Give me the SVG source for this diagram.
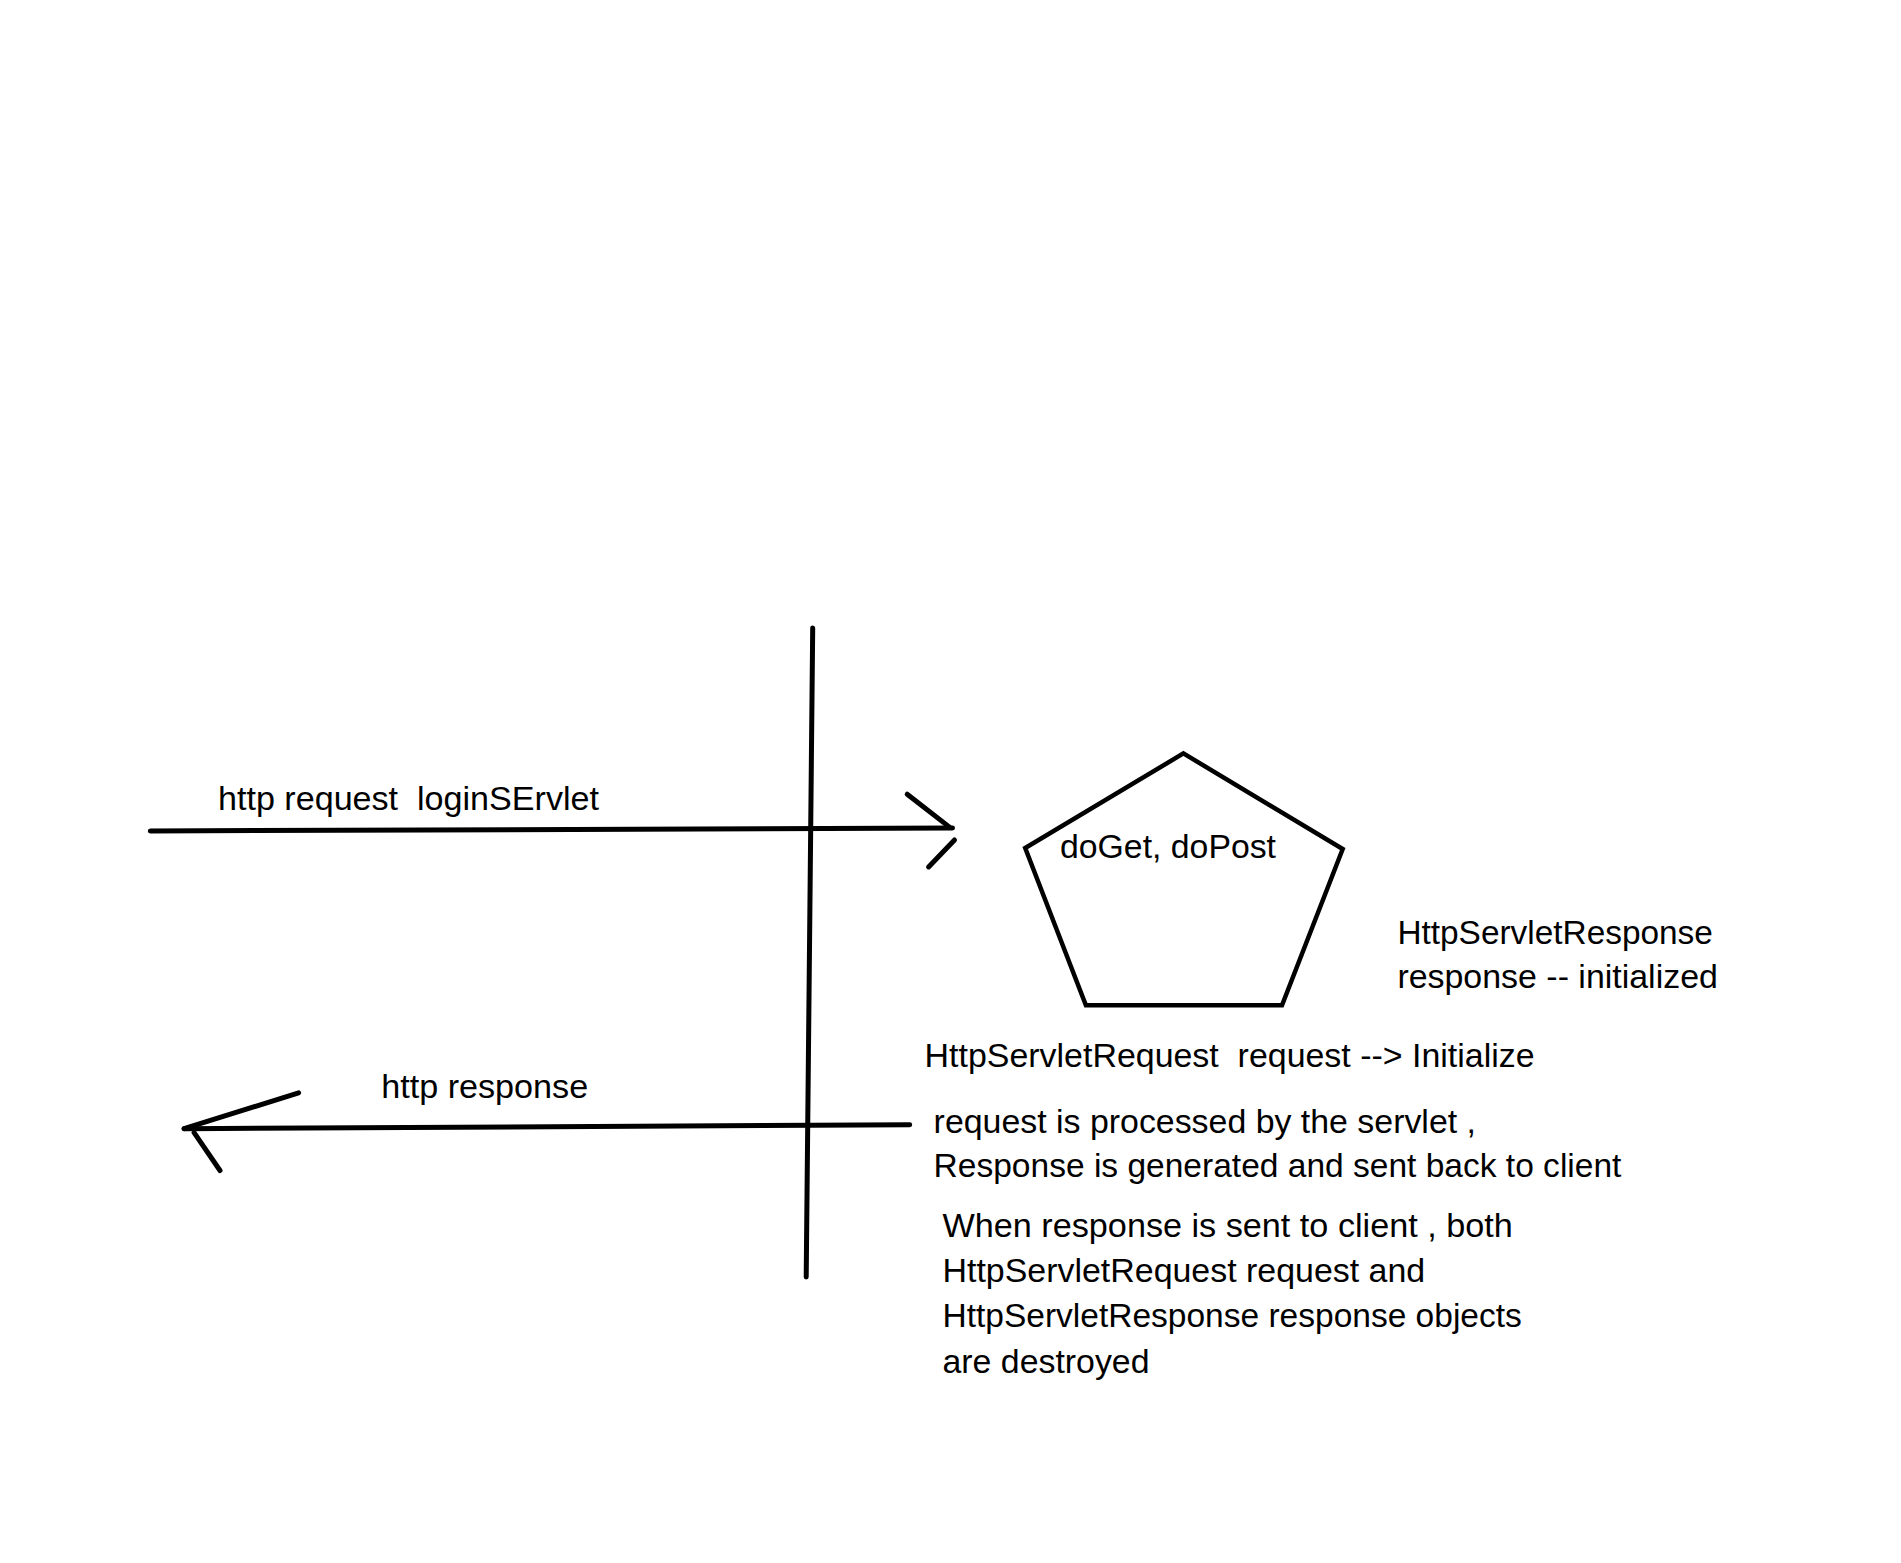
<svg xmlns="http://www.w3.org/2000/svg" width="1901" height="1563" viewBox="0 0 1901 1563">
<style>
.t{font-family:"Liberation Sans",Arial,sans-serif;font-size:33.3px;fill:#000;white-space:pre}
.ln{stroke:#000;stroke-width:5;fill:none;stroke-linecap:round}
.shape{stroke:#000;stroke-width:4.5;fill:none;stroke-linejoin:miter}
</style>
<rect width="1901" height="1563" fill="#fff"/>
<g id="boundary">
<line class="ln" x1="812.7" y1="628" x2="806.2" y2="1277"/>
</g>
<g id="servlet">
<polygon class="shape" points="1183.4,753.4 1342.7,849 1282,1005.3 1085.9,1005.3 1025.2,848"/>
<text class="t" x="1060" y="858" textLength="216" lengthAdjust="spacingAndGlyphs">doGet, doPost</text>
</g>
<g id="connectors">
<line class="ln" x1="150.3" y1="831" x2="952.5" y2="828"/>
<line class="ln" x1="907.2" y1="794.2" x2="949.5" y2="827.1"/>
<line class="ln" x1="954.5" y1="840" x2="928.6" y2="866.9"/>
<line class="ln" x1="909.7" y1="1124.7" x2="184.1" y2="1128.7"/>
<line class="ln" x1="184.1" y1="1128.7" x2="298.6" y2="1092.8"/>
<line class="ln" x1="194.1" y1="1132.7" x2="220" y2="1170.5"/>
</g>
<g id="labels">
<text class="t" x="218" y="810" textLength="381" lengthAdjust="spacingAndGlyphs">http request  loginSErvlet</text>
<text class="t" x="381.2" y="1097.8" textLength="207" lengthAdjust="spacingAndGlyphs">http response</text>
<text class="t" x="1397.4" y="943.5" textLength="315.5" lengthAdjust="spacingAndGlyphs">HttpServletResponse</text>
<text class="t" x="1397.4" y="988.3" textLength="320.5" lengthAdjust="spacingAndGlyphs">response -- initialized</text>
<text class="t" x="924.6" y="1067" textLength="610" lengthAdjust="spacingAndGlyphs">HttpServletRequest  request --&gt; Initialize</text>
<text class="t" x="933.6" y="1132.7" textLength="542.4" lengthAdjust="spacingAndGlyphs">request is processed by the servlet ,</text>
<text class="t" x="933.6" y="1177.4" textLength="687.8" lengthAdjust="spacingAndGlyphs">Response is generated and sent back to client</text>
<text class="t" x="942.5" y="1237.2" textLength="570.3" lengthAdjust="spacingAndGlyphs">When response is sent to client , both</text>
<text class="t" x="942.5" y="1281.9" textLength="482.7" lengthAdjust="spacingAndGlyphs">HttpServletRequest request and</text>
<text class="t" x="942.5" y="1326.7" textLength="579.3" lengthAdjust="spacingAndGlyphs">HttpServletResponse response objects</text>
<text class="t" x="942.5" y="1372.5" textLength="207" lengthAdjust="spacingAndGlyphs">are destroyed</text>
</g>
</svg>
